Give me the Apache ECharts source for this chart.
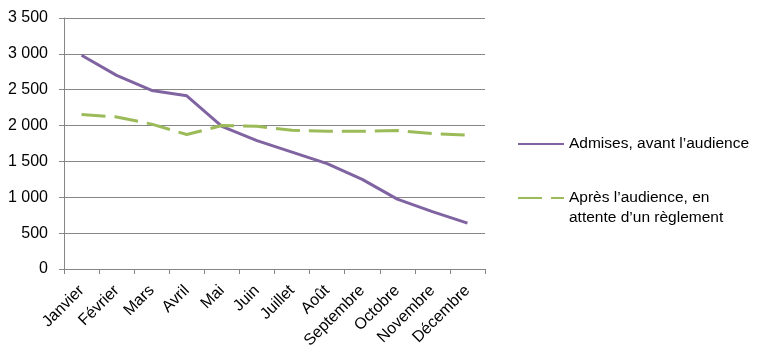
<!DOCTYPE html>
<html>
<head>
<meta charset="utf-8">
<script src="https://cdn.jsdelivr.net/npm/echarts@6/dist/echarts.min.js"></script>
<style>
html,body{margin:0;padding:0;background:#fff;}
#c{width:762px;height:361px;}
</style>
</head>
<body>
<div id="c"></div>
<script>
const categories = ['Janvier','Février','Mars','Avril','Mai','Juin','Juillet','Août','Septembre','Octobre','Novembre','Décembre'];
const seriesNames = ['Admises, avant l’audience', 'Après l’audience, en\nattente d’un règlement'];
const admises = [2980, 2700, 2490, 2415, 1990, 1790, 1630, 1470, 1250, 975, 800, 640];
const apres = [2155, 2120, 2020, 1875, 2000, 1990, 1935, 1920, 1920, 1930, 1890, 1865];
const yTicks = {min: 0, max: 3500, interval: 500};

const FONT = 'Liberation Sans';
const chart = echarts.init(document.getElementById('c'), null, {renderer: 'canvas'});
chart.setOption({
  animation: false,
  backgroundColor: '#fff',
  textStyle: {fontFamily: FONT},
  grid: {left: 64, right: 277, top: 18, bottom: 92, containLabel: false},
  legend: [
    {
      left: 512, top: 131, itemWidth: 46, itemHeight: 14, itemGap: 0,
      data: [seriesNames[0]],
      itemStyle: {opacity: 0, borderWidth: 0},
      textStyle: {fontSize: 15.5, color: '#000', fontFamily: FONT}
    },
    {
      left: 512, top: 163, itemWidth: 46, itemHeight: 14, itemGap: 0,
      data: [seriesNames[1]],
      itemStyle: {opacity: 0, borderWidth: 0},
      formatter: name => '\n' + name,
      textStyle: {fontSize: 15.5, color: '#000', fontFamily: FONT, lineHeight: 20}
    }
  ],
  xAxis: {
    type: 'category',
    data: categories,
    boundaryGap: true,
    axisLine: {lineStyle: {color: '#868686', width: 1}},
    axisTick: {show: true, length: 5, lineStyle: {color: '#868686'}},
    axisLabel: {rotate: 45, interval: 0, fontSize: 16, color: '#000', margin: 19, fontFamily: FONT}
  },
  yAxis: {
    type: 'value',
    min: yTicks.min, max: yTicks.max, interval: yTicks.interval,
    axisLine: {show: true, lineStyle: {color: '#868686', width: 1}},
    axisTick: {show: true, length: 5, lineStyle: {color: '#868686'}},
    splitLine: {show: true, lineStyle: {color: '#868686', width: 1}},
    axisLabel: {
      fontSize: 16, color: '#000', margin: 16, fontFamily: FONT,
      formatter: v => String(v).replace(/\B(?=(\d{3})+(?!\d))/g, ' ')
    }
  },
  series: [
    {
      name: seriesNames[0], type: 'line', data: admises,
      symbol: 'none', showSymbol: false,
      lineStyle: {color: '#8064A2', width: 3},
      itemStyle: {color: '#8064A2'}
    },
    {
      name: seriesNames[1], type: 'line', data: apres,
      symbol: 'none', showSymbol: false,
      lineStyle: {color: '#9BBB59', width: 3, type: [24, 9]},
      itemStyle: {color: '#9BBB59'}
    }
  ]
});
</script>
</body>
</html>
